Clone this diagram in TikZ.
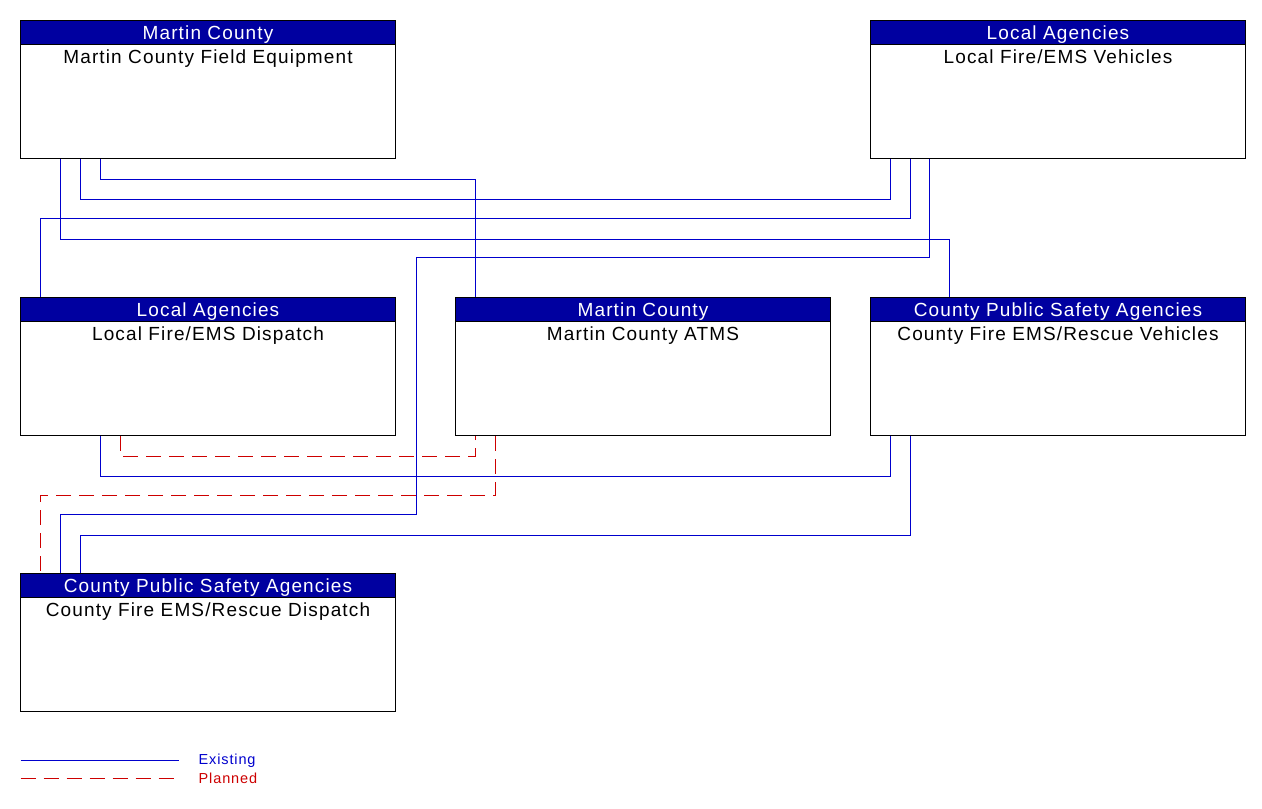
\documentclass[tikz,border=0pt]{standalone}
\usepackage{fontspec}
\setmainfont{Liberation Sans}[LetterSpace=6]
\definecolor{hdrblue}{RGB}{0,0,160}
\definecolor{lineblue}{RGB}{0,0,205}
\definecolor{linered}{RGB}{205,0,0}
\tikzset{
  sysbox/.style={draw=black,line width=1pt,minimum width=375pt,minimum height=138pt,inner sep=0pt},
  hdr/.style={draw=black,fill=hdrblue,text=white,line width=1pt,minimum width=375pt,minimum height=24pt,inner sep=0pt,text height=17pt,text depth=3pt,font=\fontsize{19}{21}\selectfont},
  sysname/.style={anchor=base,inner sep=0pt,font=\fontsize{19}{21}\selectfont},
  existing/.style={draw=lineblue,line width=1pt},
  planned/.style={draw=linered,line width=1pt,dash pattern=on 15pt off 8pt},
  legtext/.style={anchor=west,inner sep=0pt,font=\fontsize{14.5}{16}\selectfont}
}
\newcommand{\sysnode}[4]{%
  \node[sysbox] (#1) at (#2) {};
  \node[hdr,anchor=north] (#1h) at (#1.north) {#3};
  \node[sysname] (#1n) at ([yshift=-18pt]#1h.south) {#4};
}
\begin{document}
\begin{tikzpicture}[x=1pt,y=-1pt]
  \useasboundingbox (-0.5,-0.5) rectangle (1261.5,808.5);
  \sysnode{fe}{207.5,89}{Martin County}{Martin County Field Equipment}
  \sysnode{lfv}{1057.5,89}{Local Agencies}{Local Fire/EMS Vehicles}
  \sysnode{lfd}{207.5,366}{Local Agencies}{Local Fire/EMS Dispatch}
  \sysnode{atms}{642.5,366}{Martin County}{Martin County ATMS}
  \sysnode{cfv}{1057.5,366}{County Public Safety Agencies}{County Fire EMS/Rescue Vehicles}
  \sysnode{cfd}{207.5,642}{County Public Safety Agencies}{County Fire EMS/Rescue Dispatch}
  % connectors
  \draw[existing] ([xshift=80pt]fe.south west) -- ++(0,20) -| ([xshift=20pt]atms.north west);
  \draw[existing] ([xshift=60pt]fe.south west) -- ++(0,40) -| ([xshift=20pt]lfv.south west);
  \draw[existing] ([xshift=20pt]lfd.north west) -- ++(0,-79) -| ([xshift=40pt]lfv.south west);
  \draw[existing] ([xshift=40pt]fe.south west) -- ++(0,80) -| ([xshift=79pt]cfv.north west);
  \coordinate (bend) at (416,257);
  \draw[existing] ([xshift=59pt]lfv.south west) |- (bend) -- (416,514) -| ([xshift=40pt]cfd.north west);
  \draw[planned] ([xshift=100pt]lfd.south west) -- ++(0,20) -| ([xshift=20pt]atms.south west);
  \draw[existing] ([xshift=80pt]lfd.south west) -- ++(0,40) -| ([xshift=20pt]cfv.south west);
  \draw[planned] ([xshift=40pt]atms.south west) -- ++(0,59) -| ([xshift=20pt]cfd.north west);
  \draw[existing] ([xshift=40pt]cfv.south west) -- ++(0,99) -| ([xshift=60pt]cfd.north west);
  % legend
  \coordinate (ex1) at (20,760);
  \coordinate (ex2) at (178,760);
  \coordinate (pl1) at (20,778);
  \coordinate (pl2) at (178,778);
  \draw[existing] (ex1) -- (ex2);
  \draw[planned] (pl1) -- (pl2);
  \node[legtext,text=lineblue] (exl) at (198,760) {Existing};
  \node[legtext,text=linered] (pll) at (198,778) {Planned};
\end{tikzpicture}
\end{document}
